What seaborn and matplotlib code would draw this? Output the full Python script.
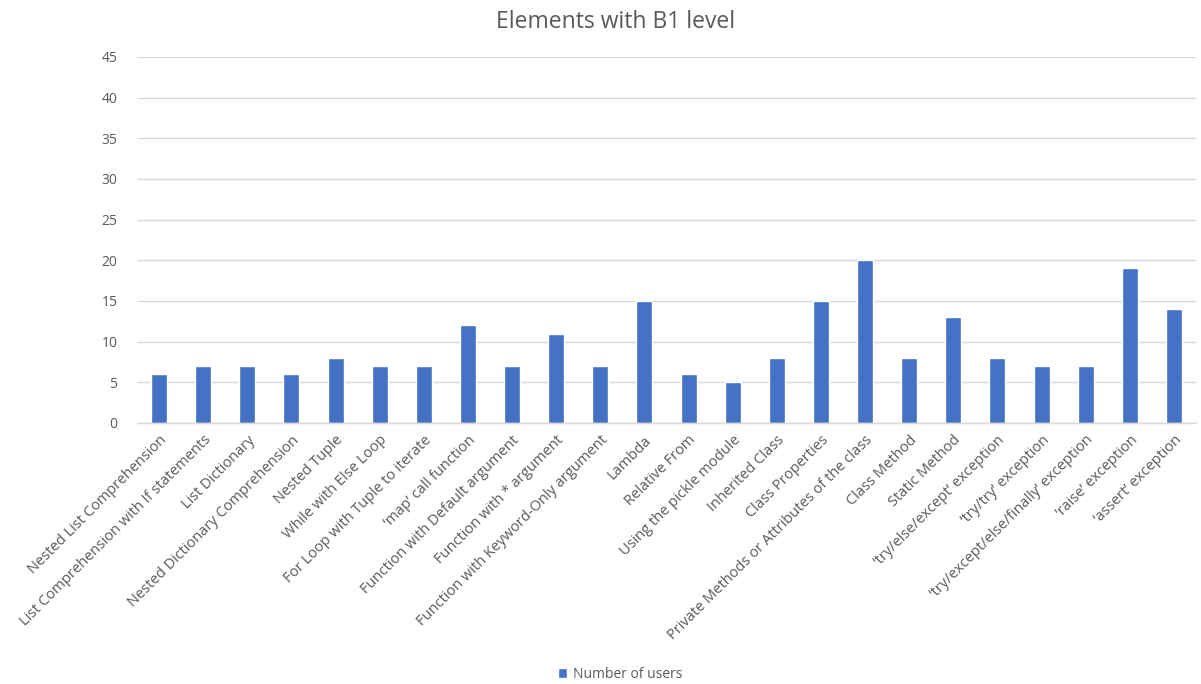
import matplotlib
matplotlib.use("Agg")
import matplotlib.pyplot as plt
import seaborn as sns
import pandas as pd
from matplotlib.patches import Patch

categories = [
    "Nested List Comprehension",
    "List Comprehension with If statements",
    "List Dictionary",
    "Nested Dictionary Comprehension",
    "Nested Tuple",
    "While with Else Loop",
    "For Loop with Tuple to iterate",
    "\u2018map\u2019 call function",
    "Function with Default argument",
    "Function with * argument",
    "Function with Keyword-Only argument",
    "Lambda",
    "Relative From",
    "Using the pickle module",
    "Inherited Class",
    "Class Properties",
    "Private Methods or Attributes of the class",
    "Class Method",
    "Static Method",
    "\u2018try/else/except\u2019 exception",
    "\u2018try/try\u2019 exception",
    "\u2018try/except/else/finally\u2019 exception",
    "\u2018raise\u2019 exception",
    "\u2018assert\u2019 exception",
]
users = [6, 7, 7, 6, 8, 7, 7, 12, 7, 11, 7, 15, 6, 5, 8, 15, 20, 8, 13, 8, 7, 7, 19, 14]
y_ticks = [0, 5, 10, 15, 20, 25, 30, 35, 40, 45]
series_name = "Number of users"
title = "Elements with B1 level"

sns.set_theme(style="white")
plt.rcParams["font.family"] = ["Open Sans", "DejaVu Sans"]

text_gray = "#595959"
bar_blue = "#4472C4"

df = pd.DataFrame({"element": categories, "users": users, "series": series_name})

fig = plt.figure(figsize=(12.01, 6.84), dpi=100)
ax = fig.add_axes([137 / 1201, 1 - 423 / 684, (1196 - 137) / 1201, (423 - 57) / 684])

sns.barplot(data=df, x="element", y="users", hue="series", palette=[bar_blue],
            width=0.36, ax=ax, legend=False, saturation=1)

ax.set_ylim(0, 45)
ax.set_yticks(y_ticks)
ax.set_xlim(-0.5, len(categories) - 0.5)
ax.yaxis.grid(True, color="#D9D9D9", linewidth=1)
ax.set_axisbelow(True)
for side in ["top", "right", "left"]:
    ax.spines[side].set_visible(False)
ax.spines["bottom"].set_color("#D9D9D9")
ax.spines["bottom"].set_linewidth(1)
ax.set_xlabel("")
ax.set_ylabel("")
ax.tick_params(axis="both", length=0, colors=text_gray, labelsize=10)
ax.tick_params(axis="y", pad=14)
ax.tick_params(axis="x", pad=7)
ax.set_xticks(range(len(categories)))
ax.set_xticklabels(categories, rotation=45, ha="right", rotation_mode="anchor",
                   color=text_gray, fontsize=10.5)

fig.text(616 / 1201, 1 - 22 / 684, title, ha="center", va="center", fontsize=16.5,
         color=text_gray)

# legend entry at bottom center
fig.legend(handles=[Patch(facecolor=bar_blue, label=series_name)],
           loc="center", bbox_to_anchor=(620 / 1201, 1 - 674 / 684), frameon=False,
           fontsize=10, handlelength=0.7, handleheight=0.7, handletextpad=0.4,
           labelcolor=text_gray)

fig.savefig("out.png", dpi=100, facecolor="white")
